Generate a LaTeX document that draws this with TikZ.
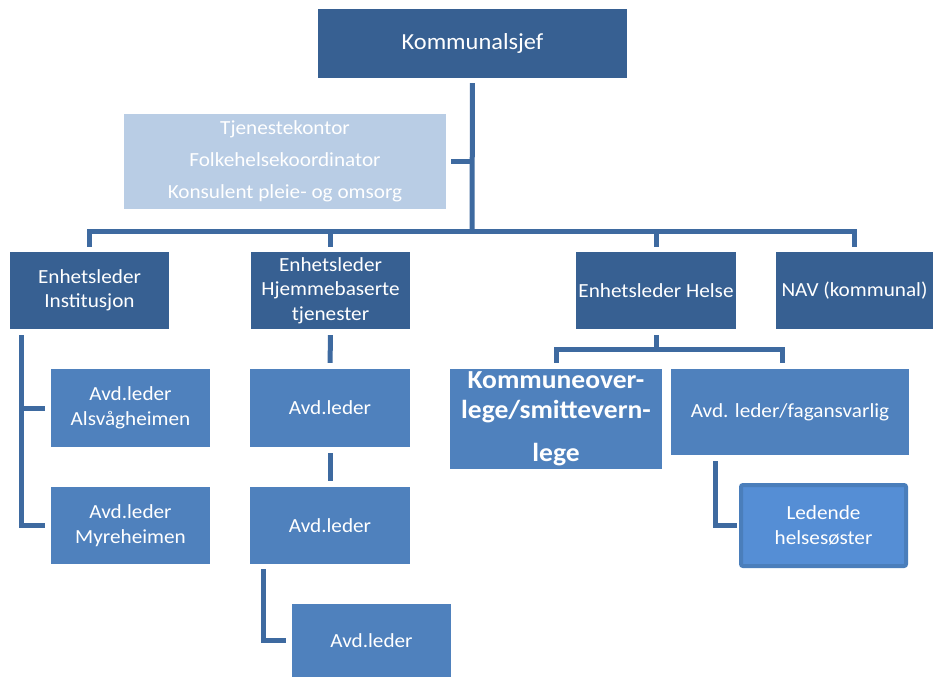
\documentclass[tikz,border=0pt]{standalone}
\usepackage{fontspec}
\setmainfont{Carlito}[FakeStretch=1.06]
\usepackage{xcolor}
\usetikzlibrary{positioning}
\definecolor{darkbox}{HTML}{376092}
\definecolor{midbox}{HTML}{4F81BD}
\definecolor{lightbox}{HTML}{B9CDE5}
\definecolor{ledfill}{HTML}{558ED5}
\definecolor{ledline}{HTML}{4A7EBB}
\definecolor{connline}{HTML}{3E6AA0}

\begin{document}
\begin{tikzpicture}[x=1pt, y=-1pt,
      box/.style={align=center, text=white, inner sep=2pt,
                  font=\fontsize{20}{24.5}\selectfont},
      dark/.style={box, fill=darkbox},
      mid/.style={box, fill=midbox},
      light/.style={box, fill=lightbox},
      conn/.style={draw=connline, line width=5pt}]
    \useasboundingbox (0,0) rectangle (933,677);
    % top level
    \node[dark, minimum width=309, minimum height=69, font=\fontsize{23}{28}\selectfont]
        (ks) at (472.5,43.5) {Kommunalsjef};
    \node[light, minimum width=322, minimum height=95] (tk) at (285,161.5)
        {Tjenestekontor\\[7.5pt]Folkehelsekoordinator\\[7.5pt]Konsulent pleie- og omsorg};
    % unit leaders
    \node[dark, minimum width=159, minimum height=77] (inst) at (89.5,290.5)
        {Enhetsleder\\Institusjon};
    \node[dark, minimum width=159, minimum height=77] (hjem) at (330.5,290.5)
        {Enhetsleder\\Hjemmebaserte\\tjenester};
    \node[dark, minimum width=160, minimum height=77] (helse) at (656,290.5)
        {Enhetsleder Helse};
    \node[dark, minimum width=157, minimum height=77] (nav) at (854.5,290.5)
        {NAV (kommunal)};
    % departments
    \node[mid, minimum width=159, minimum height=78] (als) at (130.5,408)
        {Avd.leder\\Alsvågheimen};
    \node[mid, minimum width=159, minimum height=77] (myre) at (130.5,525.5)
        {Avd.leder\\Myreheimen};
    \node[mid, minimum width=160, minimum height=78] (avdA) at (330,408) {Avd.leder};
    \node[mid, minimum width=160, minimum height=77] (avdB) at (330,525.5) {Avd.leder};
    \node[mid, minimum width=159, minimum height=73] (avdC) at (371.5,640.5) {Avd.leder};
    \node[mid, minimum width=212, minimum height=100,
          font=\fontsize{26}{30}\bfseries\selectfont] (komm) at (556,419)
        {Kommuneover-\\lege/smittevern-\\[13pt]lege};
    \node[mid, minimum width=238, minimum height=86] (fag) at (790,412)
        {Avd. leder/fagansvarlig};
    \node[box, fill=ledfill, draw=ledline, line width=4pt, rounded corners=2pt,
          minimum width=165, minimum height=81] (led) at (823.5,525.5)
        {Ledende\\helsesøster};
    % connectors
    \coordinate (hub) at (472,231);
    \coordinate (hub2) at (656,349);
    \draw[conn, shorten <=5pt] (ks.south) -- (hub);
    \draw[conn, shorten >=5pt] (ks.south |- tk.east) -- (tk.east);
    \foreach \n in {inst,hjem,helse,nav}
      \draw[conn, shorten >=5pt] (hub) -| (\n.north);
    \draw[conn, shorten >=6pt] ([xshift=12pt,yshift=-6pt]inst.south west) |- (als.west);
    \draw[conn, shorten >=6pt] ([xshift=12pt,yshift=-6pt]inst.south west) |- (myre.west);
    \draw[conn, shorten <=6pt, shorten >=6pt] (hjem) -- (avdA);
    \draw[conn, shorten <=6pt, shorten >=6pt] (avdA) -- (avdB);
    \draw[conn, shorten >=6pt] ([xshift=14pt,yshift=-5pt]avdB.south west) |- (avdC.west);
    \draw[conn, shorten <=6pt] (helse) -- (hub2);
    \draw[conn, shorten >=6pt] (hub2) -| (komm.north);
    \draw[conn, shorten >=6pt] (hub2) -| ([xshift=-8pt]fag.north);
    \draw[conn, shorten >=2pt] ([xshift=45pt,yshift=-6pt]fag.south west) |- (led.west);
\end{tikzpicture}
\end{document}
